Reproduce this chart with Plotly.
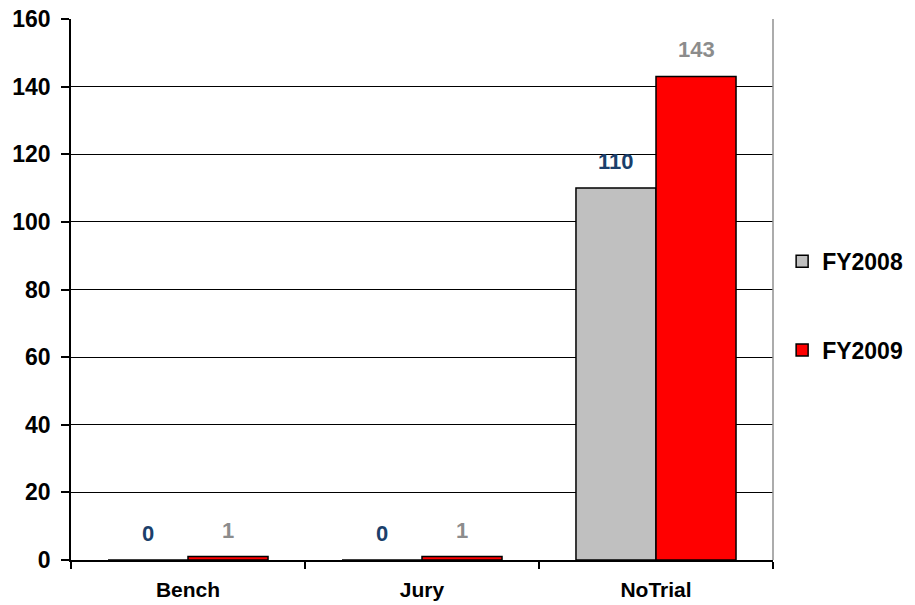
import plotly.graph_objects as go

categories = ["Bench", "Jury", "NoTrial"]
fy2008 = [0, 0, 110]
fy2009 = [1, 1, 143]
y_ticks = [0, 20, 40, 60, 80, 100, 120, 140, 160]

FONT = "Liberation Sans, Arial, sans-serif"

fig = go.Figure()
fig.add_trace(go.Bar(name="FY2008", x=categories, y=fy2008,
                     marker=dict(color="#C0C0C0", line=dict(color="black", width=1.5)),
                     legendgroup="a"))
fig.add_trace(go.Bar(name="FY2009", x=categories, y=fy2009,
                     marker=dict(color="#FF0000", line=dict(color="black", width=1.5)),
                     legendgroup="b"))

annotations = []
for c, v in zip(categories, fy2008):
    annotations.append(dict(x=c, y=v, xref="x", yref="y", text=str(v), showarrow=False,
                            xshift=-40, yshift=12, yanchor="bottom",
                            font=dict(family=FONT, size=22, color="#1B3F6B", weight="bold")))
for c, v in zip(categories, fy2009):
    annotations.append(dict(x=c, y=v, xref="x", yref="y", text=str(v), showarrow=False,
                            xshift=40, yshift=12, yanchor="bottom",
                            font=dict(family=FONT, size=22, color="#8C8C8C", weight="bold")))

fig.update_layout(
    width=915, height=605,
    margin=dict(l=71, r=142, t=19, b=45, autoexpand=False),
    paper_bgcolor="white", plot_bgcolor="white",
    barmode="group", bargap=0.316, bargroupgap=0,
    font=dict(family=FONT, color="black"),
    showlegend=True,
    legend=dict(x=1.013, y=0.47, xanchor="left", yanchor="middle",
                font=dict(family=FONT, size=23, color="black", weight="bold"),
                tracegroupgap=56, bgcolor="rgba(0,0,0,0)", itemwidth=30),
    annotations=annotations,
    shapes=[dict(type="line", xref="paper", yref="paper", x0=1, x1=1, y0=0, y1=1,
                 line=dict(color="#909090", width=1.5))],
)
fig.update_xaxes(
    showline=True, linecolor="black", linewidth=1.5,
    ticks="outside", tickson="boundaries", ticklen=7, tickcolor="black", tickwidth=1.5,
    tickfont=dict(family=FONT, size=21, color="black", weight="bold"),
    ticklabelstandoff=10, ticklabeloverflow="allow",
    showgrid=False, automargin=False,
)
fig.update_yaxes(
    range=[0, 160], tickvals=y_ticks,
    showline=True, linecolor="black", linewidth=1.5,
    ticks="outside", ticklen=8, tickcolor="black", tickwidth=1.5,
    tickfont=dict(family=FONT, size=23, color="black", weight="bold"),
    ticklabelstandoff=6, ticklabeloverflow="allow",
    showgrid=True, gridcolor="black", gridwidth=1.3,
    zeroline=False, automargin=False,
)

fig.write_html("out.html", config={"displayModeBar": False},
               post_script="document.body.style.margin='0';")
